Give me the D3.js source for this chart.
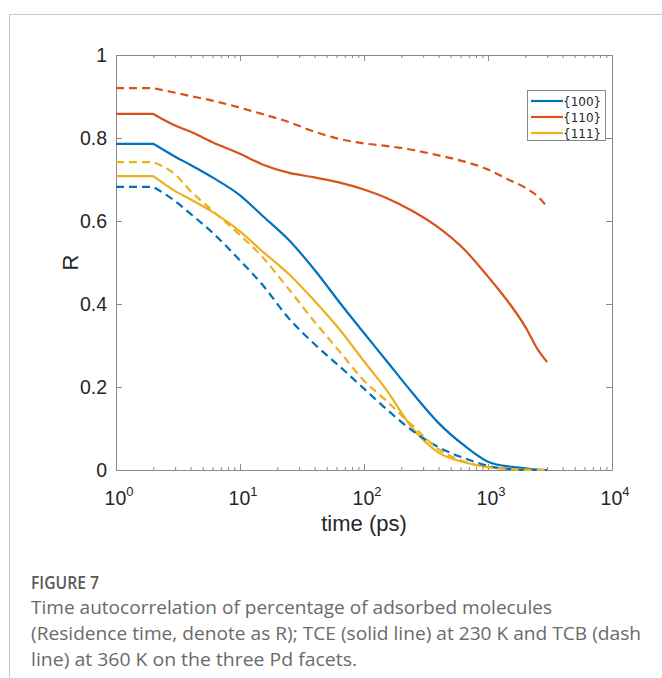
<!DOCTYPE html>
<html><head><meta charset="utf-8">
<script src="https://cdn.jsdelivr.net/npm/d3@7"></script>
<style>body{margin:0;background:#fff;} svg{display:block}</style>
</head><body><svg id="c" width="662" height="678"></svg>
<script>
// ---- data ----
const times = [1, 2, 3, 4, 6, 10, 15, 25, 40, 65, 100, 150, 250, 400, 650, 1000, 1500, 2000, 2500, 3000];
const facets = ["{100}", "{110}", "{111}"];
const colors = ["#0072BD", "#D95319", "#EDB120"];
// TCE at 230 K (solid lines)
const tce100 = [0.786, 0.786, 0.755, 0.735, 0.705, 0.662, 0.614, 0.553, 0.482, 0.400, 0.330, 0.265, 0.183, 0.113, 0.058, 0.020, 0.008, 0.004, 0.001, 0.000];
const tce110 = [0.858, 0.858, 0.830, 0.815, 0.790, 0.762, 0.737, 0.716, 0.705, 0.692, 0.676, 0.656, 0.623, 0.584, 0.530, 0.466, 0.400, 0.345, 0.292, 0.260];
const tce111 = [0.708, 0.708, 0.672, 0.652, 0.622, 0.575, 0.528, 0.471, 0.407, 0.335, 0.262, 0.195, 0.098, 0.042, 0.018, 0.007, 0.003, 0.001, 0.000, 0.000];
// TCB at 360 K (dashed lines)
const tcb100 = [0.682, 0.682, 0.648, 0.617, 0.572, 0.505, 0.448, 0.364, 0.303, 0.247, 0.196, 0.148, 0.093, 0.055, 0.028, 0.010, 0.002, 0.000, 0.000, 0.000];
const tcb110 = [0.920, 0.920, 0.909, 0.901, 0.890, 0.873, 0.858, 0.838, 0.815, 0.797, 0.787, 0.781, 0.771, 0.758, 0.743, 0.724, 0.698, 0.680, 0.660, 0.634];
const tcb111 = [0.742, 0.742, 0.712, 0.672, 0.625, 0.566, 0.515, 0.434, 0.357, 0.282, 0.215, 0.168, 0.105, 0.050, 0.020, 0.007, 0.002, 0.000, 0.000, 0.000];
const xTickValues = [1, 10, 100, 1000, 10000];
const xTickExponents = ["0", "1", "2", "3", "4"];
const yTickValues = [0, 0.2, 0.4, 0.6, 0.8, 1];
const yTickLabels = ["0", "0.2", "0.4", "0.6", "0.8", "1"];
const xLabel = "time (ps)";
const yLabel = "R";
const captionTitle = "FIGURE 7";
const captionLines = [
  "Time autocorrelation of percentage of adsorbed molecules",
  "(Residence time, denote as R); TCE (solid line) at 230 K and TCB (dash",
  "line) at 360 K on the three Pd facets."
];

const series = [
  {v: tce100, c: 0, dash: null}, {v: tce110, c: 1, dash: null}, {v: tce111, c: 2, dash: null},
  {v: tcb100, c: 0, dash: "8,5"}, {v: tcb110, c: 1, dash: "8,5"}, {v: tcb111, c: 2, dash: "8,5"}
];

const svg = d3.select("#c");
const L = 116, R = 612, T = 55, B = 470;
const x = d3.scaleLog().domain([1, 10000]).range([L, R]);
const y = d3.scaleLinear().domain([0, 1]).range([B, T]);
const axisCol = "#8a8a8a";
const font = "'Liberation Sans', Arial, sans-serif";

// panel frame
svg.append("line").attr("x1", 9).attr("x2", 662).attr("y1", 14.5).attr("y2", 14.5).attr("stroke", "#c8c8c8");
svg.append("line").attr("x1", 9.5).attr("x2", 9.5).attr("y1", 14).attr("y2", 678).attr("stroke", "#c8c8c8");

// minor ticks
const minors = [];
[1, 10, 100, 1000].forEach(d => { for (let k = 2; k <= 9; k++) minors.push(d * k); });

function styleAxis(g) {
  g.selectAll("path, line").attr("stroke", axisCol);
  g.selectAll("text").remove();
}
svg.append("g").attr("transform", `translate(0,${B})`)
  .call(d3.axisBottom(x).tickValues(xTickValues).tickSize(-6).tickSizeOuter(0)).call(styleAxis);
svg.append("g").attr("transform", `translate(0,${B})`)
  .call(d3.axisBottom(x).tickValues(minors).tickSize(-3).tickSizeOuter(0)).call(styleAxis);
svg.append("g").attr("transform", `translate(0,${T})`)
  .call(d3.axisTop(x).tickValues(xTickValues).tickSize(-6).tickSizeOuter(0)).call(styleAxis);
svg.append("g").attr("transform", `translate(0,${T})`)
  .call(d3.axisTop(x).tickValues(minors).tickSize(-3).tickSizeOuter(0)).call(styleAxis);
svg.append("g").attr("transform", `translate(${L},0)`)
  .call(d3.axisLeft(y).tickValues(yTickValues).tickSize(-6).tickSizeOuter(0)).call(styleAxis);
svg.append("g").attr("transform", `translate(${R},0)`)
  .call(d3.axisRight(y).tickValues(yTickValues).tickSize(-6).tickSizeOuter(0)).call(styleAxis);

// tick labels
const txtCol = "#262626";
xTickValues.forEach((v, i) => {
  const t = svg.append("text").attr("x", x(v) + 3).attr("y", 505).attr("text-anchor", "middle")
    .attr("font-family", font).attr("font-size", 19.5).attr("fill", txtCol);
  t.append("tspan").text("10");
  t.append("tspan").attr("dy", -9).attr("font-size", 13).text(xTickExponents[i]);
});
yTickValues.forEach((v, i) => {
  svg.append("text").attr("x", L - 9).attr("y", y(v) + 7).attr("text-anchor", "end")
    .attr("font-family", font).attr("font-size", 19.5).attr("fill", txtCol).text(yTickLabels[i]);
});
svg.append("text").attr("x", 364).attr("y", 531).attr("text-anchor", "middle")
  .attr("font-family", font).attr("font-size", 22).attr("fill", txtCol).text(xLabel);
svg.append("text").attr("transform", `translate(78,${(T + B) / 2}) rotate(-90)`).attr("text-anchor", "middle")
  .attr("font-family", font).attr("font-size", 22).attr("fill", txtCol).text(yLabel);

// lines: flat start segment straight, then a smooth decay
const lin = d3.line().x(d => x(d.t)).y(d => y(d.r));
const mono = d3.line().curve(d3.curveMonotoneX).x(d => x(d.t)).y(d => y(d.r));
series.forEach(s => {
  const pts = s.v.map((r, i) => ({t: times[i], r}));
  const d = lin(pts.slice(0, 2)) + mono(pts.slice(1)).replace(/^M[^LC]*/, "");
  svg.append("path").attr("d", d).attr("fill", "none")
    .attr("stroke", colors[s.c]).attr("stroke-width", 2.2)
    .attr("stroke-dasharray", s.dash).attr("stroke-linejoin", "round");
});

// legend
const lg = svg.append("g");
lg.append("rect").attr("x", 527.5).attr("y", 90.5).attr("width", 78).attr("height", 50)
  .attr("fill", "#fff").attr("stroke", "#8a8a8a");
facets.forEach((f, i) => {
  const yy = 101 + i * 16;
  lg.append("line").attr("x1", 531).attr("x2", 563).attr("y1", yy).attr("y2", yy)
    .attr("stroke", colors[i]).attr("stroke-width", 2.2);
  lg.append("text").attr("x", 563).attr("y", yy + 4.5).attr("font-family", "'DejaVu Sans', sans-serif")
    .attr("font-size", 12).attr("fill", txtCol).text(f);
});

// caption
svg.append("text").attr("x", 31).attr("y", 589).attr("font-family", "'Open Sans', sans-serif")
  .attr("font-size", 18).attr("font-weight", 600).attr("fill", "#5a5a5a")
  .attr("textLength", 68).attr("lengthAdjust", "spacingAndGlyphs").text(captionTitle);
const capLens = [521, 610, 326];
captionLines.forEach((t, i) => {
  svg.append("text").attr("x", 31).attr("y", 614 + i * 26).attr("font-family", "'Open Sans', sans-serif")
    .attr("font-size", 19).attr("fill", "#6a6a6a")
    .attr("textLength", capLens[i]).attr("lengthAdjust", "spacingAndGlyphs").text(t);
});
</script></body></html>
